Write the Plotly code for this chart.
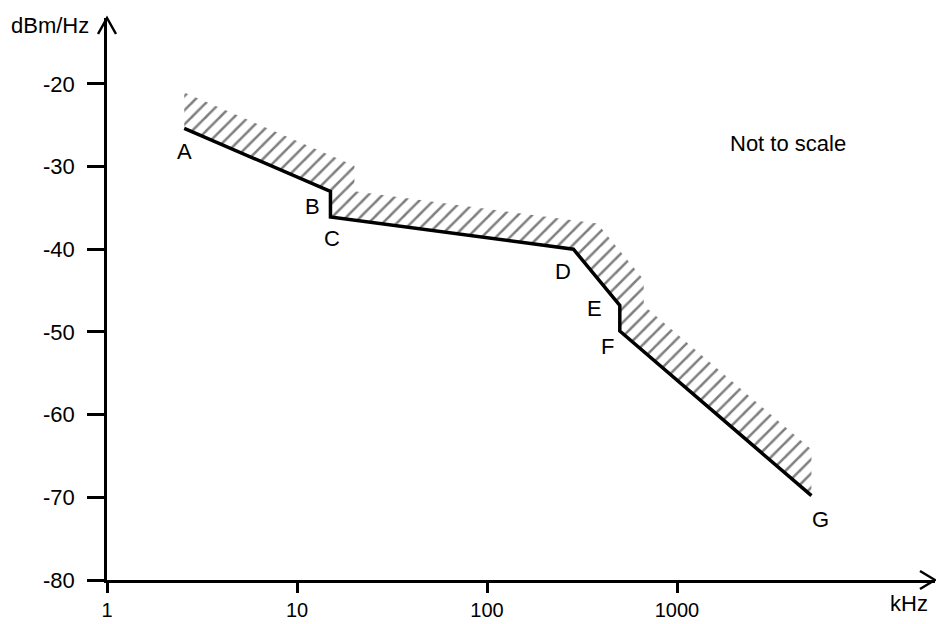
import numpy as np
import plotly.graph_objects as go

# ---- data ----
point_labels = ["A", "B", "C", "D", "E", "F", "G"]
freq_khz = [2.55, 15.0, 15.0, 285.0, 500.0, 500.0, 5100.0]
psd_dbm_hz = [-25.4, -33.0, -36.1, -40.0, -46.8, -49.9, -69.8]
x_tick_vals = [1, 10, 100, 1000]
x_tick_text = ["1", "10", "100", "1000"]
y_tick_vals = [-80, -70, -60, -50, -40, -30, -20]
y_tick_text = ["-80", "-70", "-60", "-50", "-40", "-30", "-20"]

# ---- hatched band (line shifted up/right, clipped at A and G) ----
band_dx_dec = 0.126   # decade shift
band_dy_db = 3.1      # dB shift
lx = np.log10(freq_khz)
yy = np.array(psd_dbm_hz)
ux = lx + band_dx_dec
uy = yy + band_dy_db
top_left = uy[0] - band_dx_dec * (yy[1] - yy[0]) / (lx[1] - lx[0])
top_right = uy[-1] - band_dx_dec * (yy[-1] - yy[-2]) / (lx[-1] - lx[-2])
keep = ux < lx[-1]
poly_lx = list(lx) + [lx[-1]] + list(ux[keep][::-1]) + [lx[0], lx[0]]
poly_y = list(yy) + [top_right] + list(uy[keep][::-1]) + [top_left, yy[0]]
poly_x = [10 ** v for v in poly_lx]

FONT = "Liberation Sans, Arial, Helvetica, sans-serif"
FS = 22

fig = go.Figure()
fig.add_trace(go.Scatter(
    x=poly_x, y=poly_y, mode="lines", fill="toself",
    line=dict(width=0, color="rgba(0,0,0,0)"),
    fillcolor="white",
    fillpattern=dict(shape="/", fgcolor="black", bgcolor="white",
                     size=10, solidity=0.25),
    hoverinfo="skip", showlegend=False,
))
fig.add_trace(go.Scatter(
    x=freq_khz, y=psd_dbm_hz, mode="lines",
    line=dict(color="black", width=3.5),
    showlegend=False,
))

# point labels, offset in pixels from their points
label_offsets = {"A": (0, -23), "B": (-18, -15), "C": (2, -22), "D": (-10, -22),
                 "E": (-25, -3), "F": (-12, -15), "G": (9, -24)}
for lab, xv, yv in zip(point_labels, freq_khz, psd_dbm_hz):
    dx, dy = label_offsets[lab]
    fig.add_annotation(x=np.log10(xv), y=yv, text=lab, showarrow=False,
                       xshift=dx, yshift=dy,
                       font=dict(family=FONT, size=FS, color="black"))

W, H = 936, 624
ML, MR, MT, MB = 107, 1, 18, 44
PW, PH = W - ML - MR, H - MT - MB
AXIS_Y = H - MB

def px_x(p):
    return (p - ML) / PW

def px_y(p):
    return 1 - (p - MT) / PH

fig.add_annotation(xref="paper", yref="paper", x=px_x(91), y=px_y(25),
                   xanchor="right", yanchor="middle", text="dBm/Hz",
                   showarrow=False, font=dict(family=FONT, size=FS, color="black"))
fig.add_annotation(xref="paper", yref="paper", x=px_x(909), y=px_y(603),
                   xanchor="center", yanchor="middle", text="kHz",
                   showarrow=False, font=dict(family=FONT, size=FS, color="black"))
fig.add_annotation(xref="paper", yref="paper", x=px_x(788), y=px_y(143),
                   xanchor="center", yanchor="middle", text="Not to scale",
                   showarrow=False, font=dict(family=FONT, size=FS, color="black"))

# arrowheads on axes
fig.add_shape(type="path", xref="paper", yref="paper",
              path=f"M {-9/PW},{1-16/PH} L 0,1 L {9/PW},{1-16/PH}",
              line=dict(color="black", width=2.5))
fig.add_shape(type="path", xref="paper", yref="paper",
              path=f"M {1-15/PW},{9/PH} L 1,0 L {1-15/PW},{-9/PH}",
              line=dict(color="black", width=2.5))

fig.update_xaxes(type="log", range=[0, (935 - 107) / 190],
                 tickvals=x_tick_vals, ticktext=x_tick_text,
                 showgrid=False, zeroline=False, showline=True,
                 linecolor="black", linewidth=2.5, automargin=False,
                 ticks="outside", ticklen=10, tickwidth=2.5, tickcolor="black",
                 ticklabelstandoff=0,
                 tickfont=dict(family=FONT, size=20, color="black"))
fig.update_yaxes(range=[-80, -80 + (AXIS_Y - 18) / 8.27],
                 tickvals=y_tick_vals, ticktext=y_tick_text,
                 showgrid=False, zeroline=False, showline=True,
                 linecolor="black", linewidth=2.5, automargin=False,
                 ticks="outside", ticklen=17, tickwidth=2.5, tickcolor="black",
                 ticklabelstandoff=8,
                 tickfont=dict(family=FONT, size=FS, color="black"))

fig.update_layout(width=W, height=H, margin=dict(l=ML, r=MR, t=MT, b=MB),
                  plot_bgcolor="white", paper_bgcolor="white",
                  showlegend=False)

fig.write_html("out.html")
